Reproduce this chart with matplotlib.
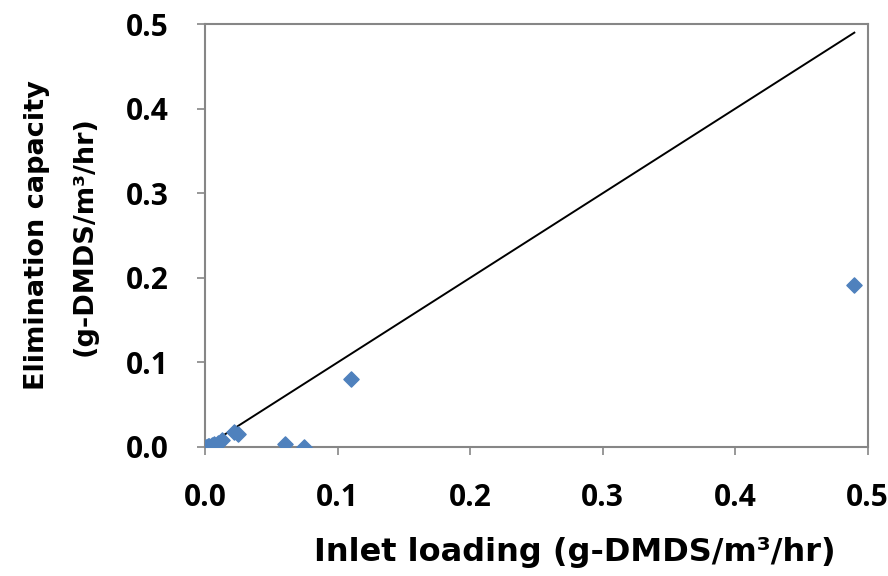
import matplotlib.pyplot as plt

# inlet loading vs elimination capacity (g-DMDS/m3/hr)
inlet_loading = [0.001, 0.002, 0.003, 0.005, 0.007, 0.010, 0.013, 0.022, 0.025, 0.060, 0.075, 0.110, 0.490]
elimination = [0.000, 0.001, 0.001, 0.002, 0.003, 0.005, 0.008, 0.018, 0.015, 0.003, 0.000, 0.080, 0.192]

# 1:1 reference line
line_x = [0.0, 0.49]
line_y = [0.0, 0.49]

ticks = [0.0, 0.1, 0.2, 0.3, 0.4, 0.5]

plt.rcParams["font.family"] = ["DejaVu Sans"]

fig = plt.figure(figsize=(8.88, 5.76), dpi=100)
ax = fig.add_axes([0.231, 0.224, 0.746, 0.734])

ax.plot(line_x, line_y, color="black", linewidth=1.4, zorder=2)
ax.scatter(inlet_loading, elimination, marker="D", s=60, color="#4f81bd", zorder=3)

ax.set_xlim(0, 0.5)
ax.set_ylim(0, 0.5)
ax.set_xticks(ticks)
ax.set_yticks(ticks)
ax.set_xticklabels([f"{t:.1f}" for t in ticks])
ax.set_yticklabels([f"{t:.1f}" for t in ticks])
ax.tick_params(length=6, color="#868686", width=1.2, pad=20)
for label in ax.get_xticklabels() + ax.get_yticklabels():
    label.set_fontweight("bold")
    label.set_fontfamily("Open Sans")
    label.set_fontsize(21.5)
for spine in ax.spines.values():
    spine.set_color("#868686")
    spine.set_linewidth(1.5)

ax.set_xlabel("Inlet loading (g-DMDS/m³/hr)", fontsize=23, fontweight="bold")
ax.set_ylabel("Elimination capacity\n(g-DMDS/m³/hr)", fontsize=19.5, fontweight="bold",
              linespacing=2.1)
ax.xaxis.set_label_coords(0.558, -0.212)
ax.yaxis.set_label_coords(-0.162, 0.5)

fig.savefig("out.png", dpi=100)
